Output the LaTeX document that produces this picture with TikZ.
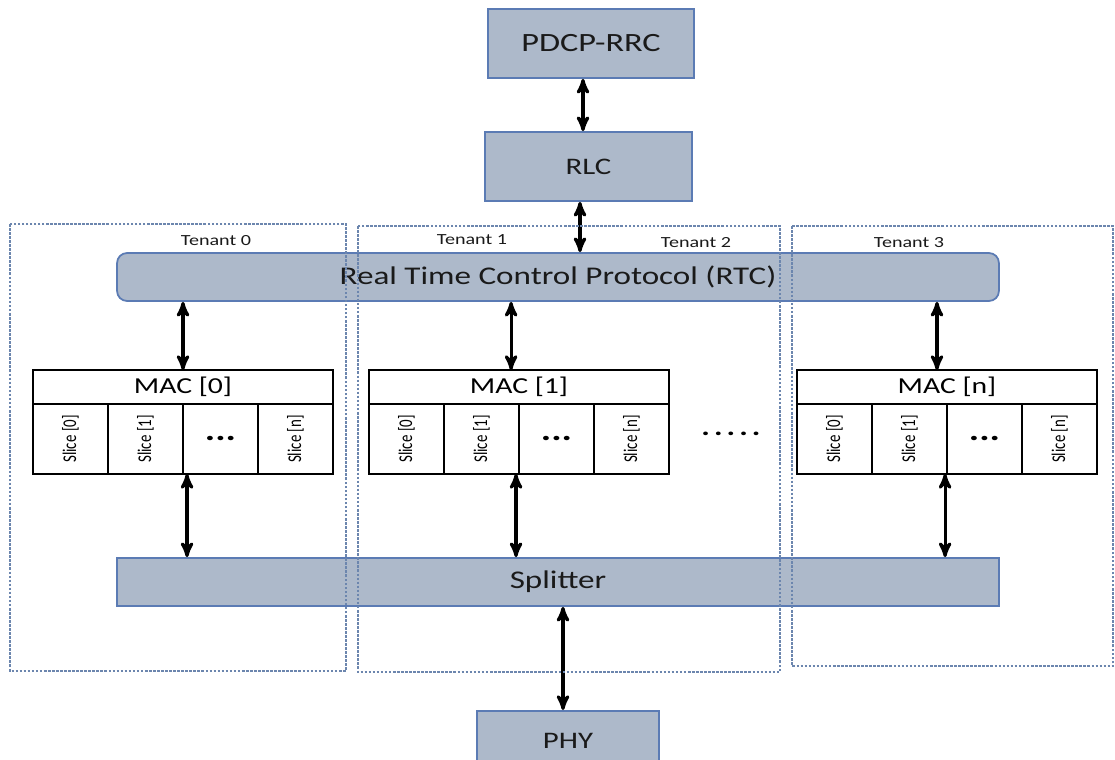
\documentclass[tikz,border=0pt]{standalone}
\usepackage{fontspec}
\setmainfont{Carlito}[FakeStretch=1.3]
\newfontfamily\slicefont{Carlito}
\usepackage{tikz}
\usetikzlibrary{arrows,shapes,positioning}
\definecolor{BoxFill}{HTML}{ADB9CA}
\definecolor{BoxLine}{HTML}{5B7BB4}
\definecolor{Frame}{HTML}{6C86AE}
\definecolor{Ink}{HTML}{1A1A1A}
\newcommand{\slicetext}[1]{\scalebox{1.3}[1]{\rotatebox{90}{#1}}}
\tikzset{layer/.style ={
        rectangle,
        fill=BoxFill,
        draw=BoxLine,
		line width=1pt,
		inner sep=0pt,
		text=Ink
    },
    bar/.style ={
        layer,
        minimum width=17.64cm,
        minimum height=0.96cm
    },
    machead/.style ={
        rectangle,
        draw=black,
		line width=0.8pt,
		outer sep=0pt,
        minimum width=6cm,
        minimum height=0.68cm,
        font=\fontsize{13}{15}\selectfont
    },
    slicebox/.style ={
        rectangle,
        draw=black,
		line width=0.8pt,
		outer sep=0pt,
		inner sep=0pt,
        minimum width=1.5cm,
        minimum height=1.4cm,
        font=\slicefont\fontsize{8.5}{10}\selectfont
    },
    link/.style ={
        draw,
        line width=1.8pt,
        stealth'-stealth'
    },
    tenant/.style ={
        draw=Frame,
        line width=0.6pt,
        dash pattern=on 1.5pt off 0.8pt
    },
    tlabel/.style ={
        font=\fontsize{8.8}{10}\selectfont,
        text=Ink
    }}

\begin{document}
\begin{tikzpicture}
    [
    x=0.02cm, y=-0.02cm,
    node distance=0pt
    ]
    \clip (0,0) rectangle (1115,760);
    \node (pdcp)[layer,minimum width=4.12cm,minimum height=1.38cm,font=\fontsize{15}{17}\selectfont] at (591,43.5) {PDCP-RRC};
    \node (rlc)[layer,minimum width=4.14cm,minimum height=1.38cm,font=\fontsize{13.5}{15}\selectfont] at (588.5,166.5) {RLC};
    \node (rtc)[bar,rounded corners=0.2cm,font=\fontsize{14.5}{16}\selectfont] at (558,277) {Real Time Control Protocol (RTC)};
    \node (splitter)[bar,font=\fontsize{14.5}{16}\selectfont] at (558,582) {Splitter};
    \node (phy)[layer,anchor=north,minimum width=3.64cm,minimum height=1.2cm,font=\fontsize{13.5}{15}\selectfont] at (568,710) {PHY};

    \foreach \i/\x/\n/\up/\dn in {0/183/0/0pt/2.3pt,1/519/1/-4.5pt/-1.7pt,2/947/n/-5.7pt/-1.1pt}{
        \node (mac\i)[machead] at (\x,387) {MAC [\n]};
        \node (s\i-0)[slicebox,anchor=north west] at (mac\i.south west) {\slicetext{Slice [0]}};
        \node (s\i-1)[slicebox,right=of s\i-0] {\slicetext{Slice [1]}};
        \node (s\i-2)[slicebox,right=of s\i-1,font=\fontsize{17}{17}\selectfont\bfseries] {...};
        \node (s\i-3)[slicebox,right=of s\i-2] {\slicetext{Slice [n]}};
        \draw[link] ([xshift=\up]mac\i.north) -- ([xshift=\up]mac\i.north |- rtc.south);
        \draw[link] ([xshift=\dn]mac\i.center |- s\i-0.south) -- ([xshift=\dn]mac\i.center |- splitter.north);
    }
    \node (more)[font=\fontsize{14}{14}\selectfont\bfseries] at (731,434) {.\,.\,.\,.\,.};

    \draw[link] ([xshift=-0.16cm]pdcp.south) -- ([xshift=-0.16cm]pdcp.south |- rlc.north);
    \draw[link] ([xshift=-0.17cm]rlc.south) -- ([xshift=-0.17cm]rlc.south |- rtc.north);
    \draw[link] ([xshift=-0.1cm]phy.north) -- ([xshift=-0.1cm]phy.north |- splitter.south);

    \draw[tenant] (10,224) rectangle (346,671);
    \draw[tenant] (358,226) rectangle (780,672);
    \draw[tenant] (792,226) rectangle (1113,666);
    \node (t0)[tlabel] at (216,241) {Tenant 0};
    \node (t1)[tlabel] at (472,240) {Tenant 1};
    \node (t2)[tlabel] at (696,243) {Tenant 2};
    \node (t3)[tlabel] at (909,243) {Tenant 3};
\end{tikzpicture}
\end{document}
